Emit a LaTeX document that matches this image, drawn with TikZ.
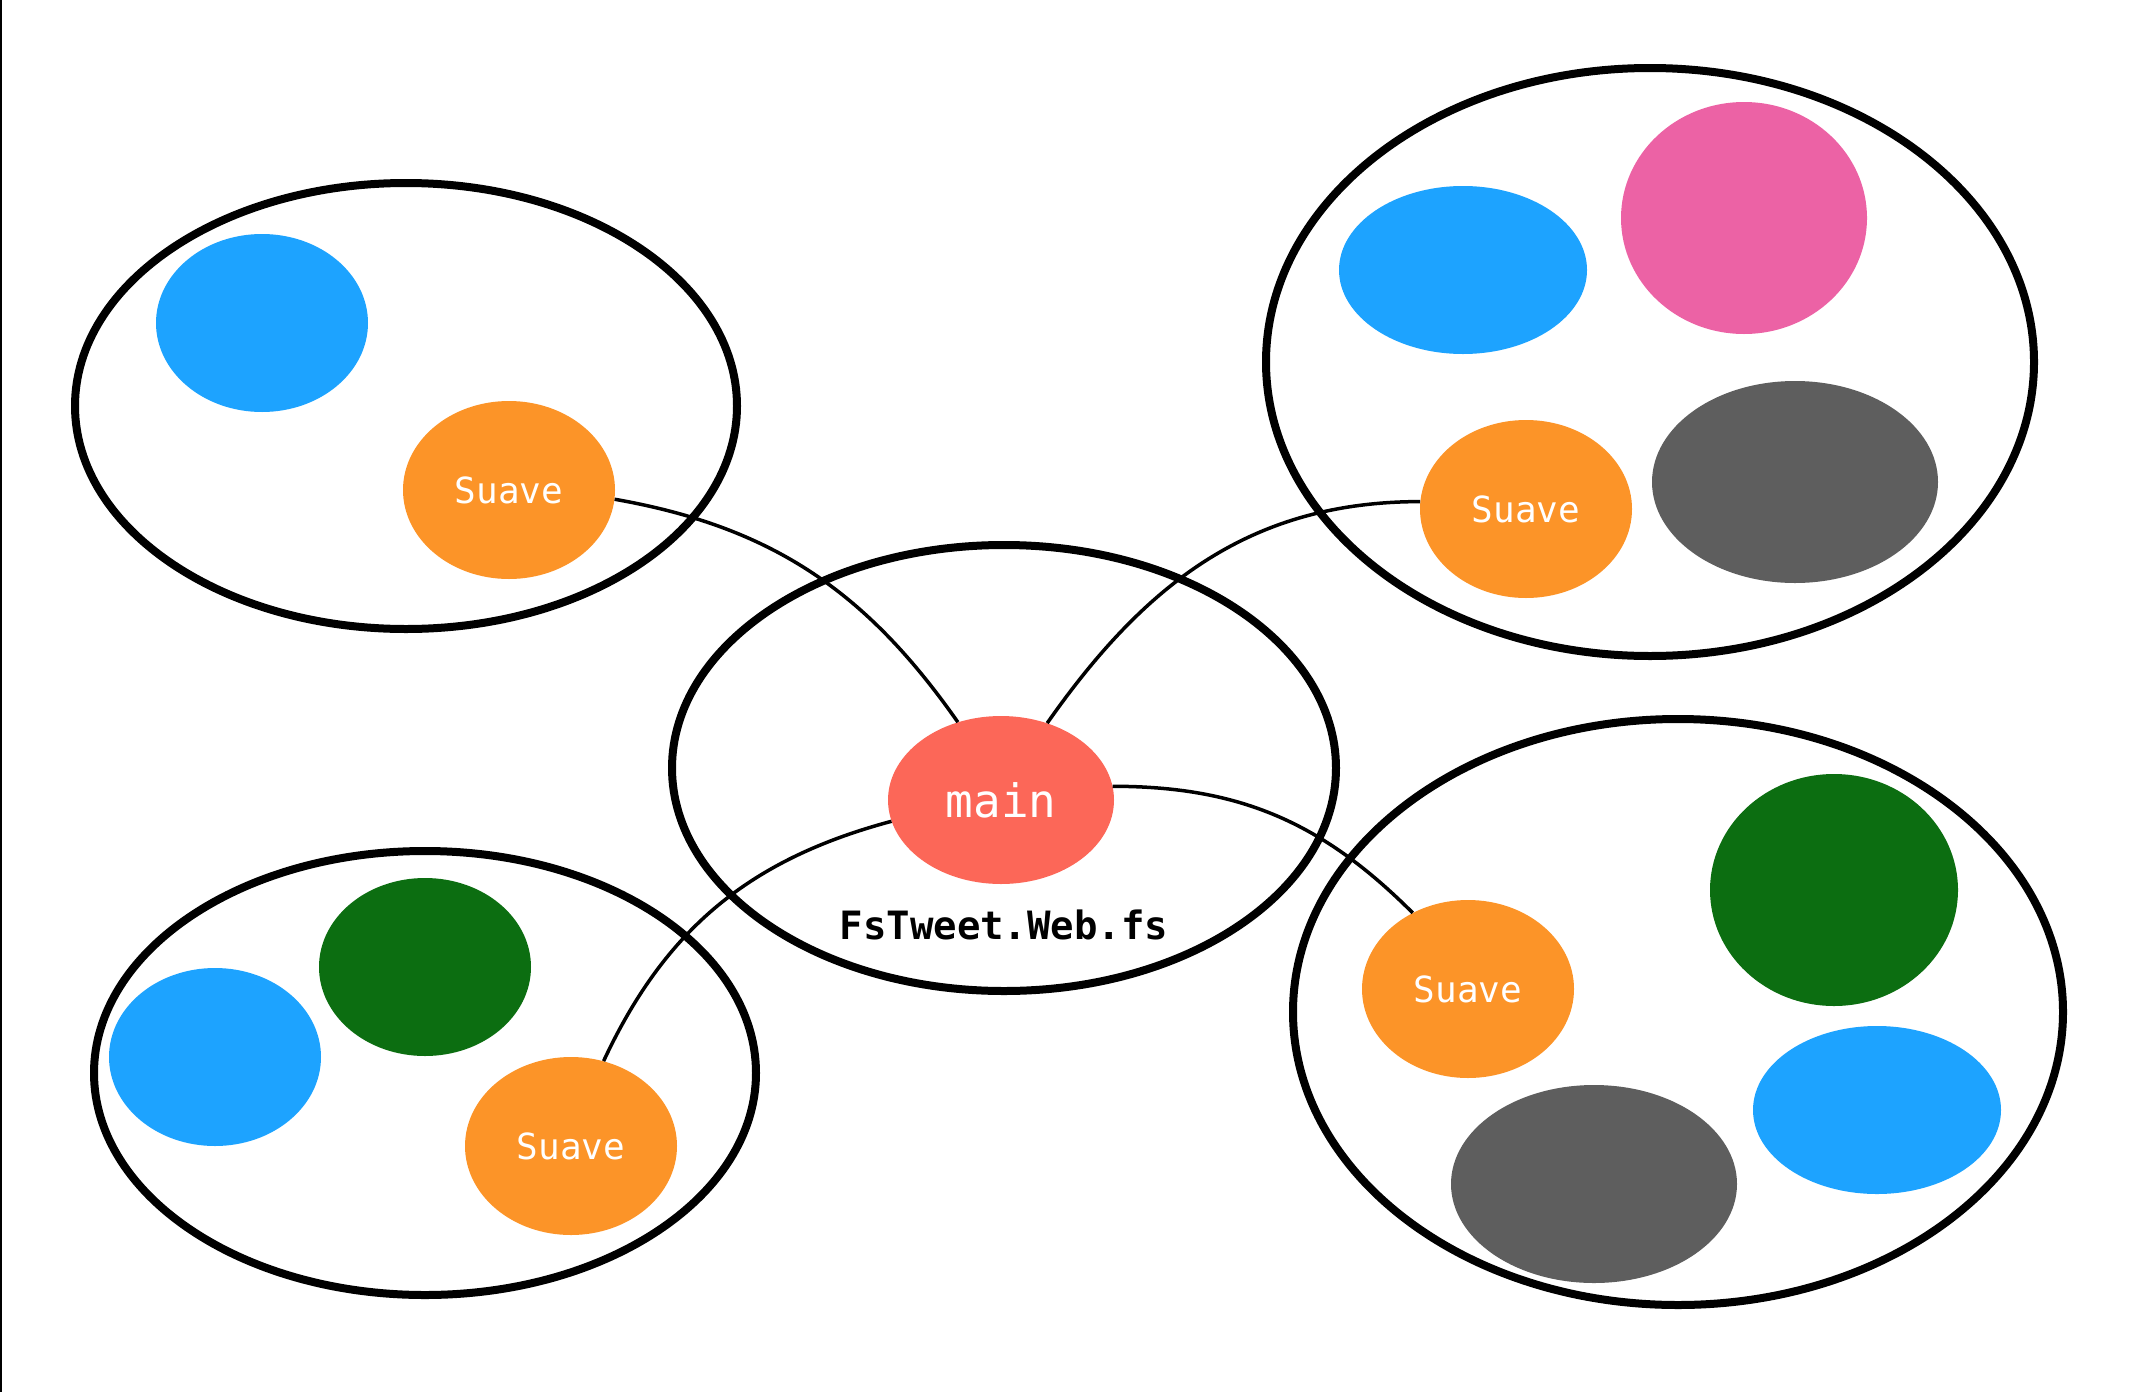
\documentclass[tikz,border=0pt]{standalone}
\usepackage{fontspec}
\usepackage{xcolor}
\usepackage{tikz}
\usetikzlibrary{shapes.geometric}
\setmonofont{DejaVu Sans Mono}
\definecolor{twblue}{RGB}{29,163,255}
\definecolor{suaveorange}{RGB}{252,148,40}
\definecolor{mainred}{RGB}{252,103,88}
\definecolor{pinkish}{RGB}{236,98,165}
\definecolor{darkgray}{RGB}{94,94,94}
\definecolor{darkgreen}{RGB}{12,110,17}

\begin{document}
\begin{tikzpicture}[x=1pt, y=-1pt,
	module/.style={draw, ellipse, line width=8pt, inner sep=0pt},
	blob/.style={ellipse, inner sep=0pt, text=white, font=\ttfamily\fontsize{36}{40}\selectfont},
	link/.style={line width=3.5pt}]
	\useasboundingbox (0,0) rectangle (2136,1392);
	\draw[line width=2pt] (1,0) -- (1,1392);
	% modules
	\node[module, minimum width=662, minimum height=446] (modTL) at (406,406) {};
	\node[module, minimum width=768, minimum height=588] (modTR) at (1650,362) {};
	\node[module, minimum width=664, minimum height=446] (modC) at (1004,768) {};
	\node[module, minimum width=662, minimum height=444] (modBL) at (425,1073) {};
	\node[module, minimum width=770, minimum height=586] (modBR) at (1678,1012) {};
	% top left
	\node[blob, fill=twblue, minimum width=212, minimum height=178] (blueTL) at (262,323) {};
	\node[blob, fill=suaveorange, minimum width=212, minimum height=178] (suaveTL) at (509,490) {Suave};
	% top right
	\node[blob, fill=twblue, minimum width=248, minimum height=168] (blueTR) at (1463,270) {};
	\node[blob, fill=pinkish, minimum width=246, minimum height=232] (pinkTR) at (1744,218) {};
	\node[blob, fill=suaveorange, minimum width=212, minimum height=178] (suaveTR) at (1526,509) {Suave};
	\node[blob, fill=darkgray, minimum width=286, minimum height=202] (grayTR) at (1795,482) {};
	% center
	\node[blob, fill=mainred, minimum width=226, minimum height=168, font=\ttfamily\fontsize{46}{50}\selectfont] (main) at (1001,800) {main};
	\node[font=\ttfamily\bfseries\fontsize{39}{42}\selectfont] (lbl) at (1004,925) {FsTweet.Web.fs};
	% bottom left
	\node[blob, fill=twblue, minimum width=212, minimum height=178] (blueBL) at (215,1057) {};
	\node[blob, fill=darkgreen, minimum width=212, minimum height=178] (greenBL) at (425,967) {};
	\node[blob, fill=suaveorange, minimum width=212, minimum height=178] (suaveBL) at (571,1146) {Suave};
	% bottom right
	\node[blob, fill=suaveorange, minimum width=212, minimum height=178] (suaveBR) at (1468,989) {Suave};
	\node[blob, fill=darkgreen, minimum width=248, minimum height=232] (greenBR) at (1834,890) {};
	\node[blob, fill=twblue, minimum width=248, minimum height=168] (blueBR) at (1877,1110) {};
	\node[blob, fill=darkgray, minimum width=286, minimum height=198] (grayBR) at (1594,1184) {};
	% links
	\draw[link] (suaveTL.-5) to[out=-10, in=125] (main.119);
	\draw[link] (main.59) to[out=55, in=180] (suaveTR.176);
	\draw[link] (main.7) to[out=0, in=135] (suaveBR.126);
	\draw[link] (main.191) to[out=195, in=65] (suaveBL.69);
\end{tikzpicture}
\end{document}
